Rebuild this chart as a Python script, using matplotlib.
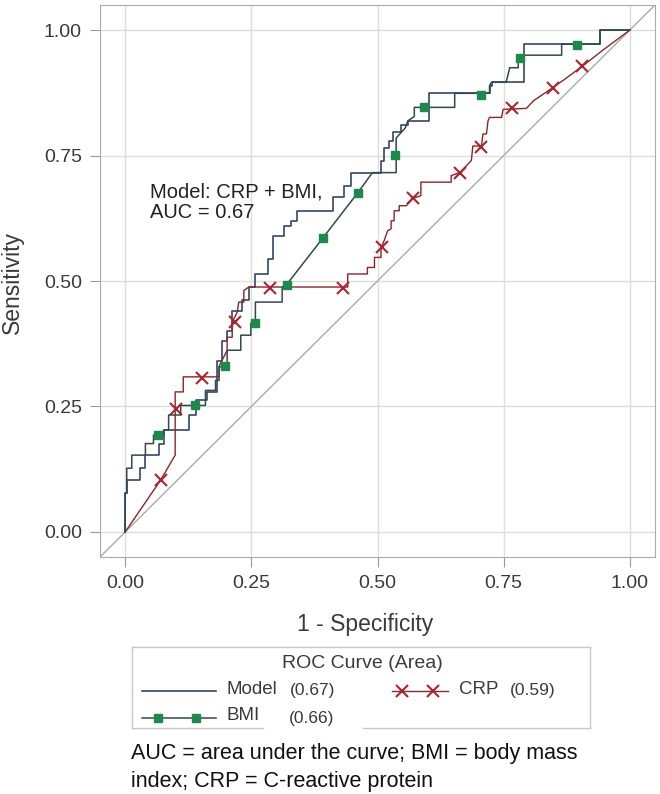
import matplotlib.pyplot as plt
import numpy as np

plt.rcParams['font.family'] = ['Liberation Sans', 'DejaVu Sans']

# ROC curve vertices (1 - specificity, sensitivity)
model_x = [0, 0, 0.003, 0.003, 0.030, 0.030, 0.040, 0.040, 0.066, 0.066, 0.076, 0.076,
           0.126, 0.126, 0.140, 0.140, 0.162, 0.162, 0.182, 0.182, 0.192, 0.192, 0.202,
           0.202, 0.212, 0.212, 0.232, 0.232, 0.245, 0.245, 0.258, 0.258, 0.282, 0.282,
           0.292, 0.292, 0.315, 0.315, 0.328, 0.328, 0.341, 0.341, 0.411, 0.411, 0.434,
           0.434, 0.447, 0.447, 0.507, 0.507, 0.513, 0.513, 0.523, 0.523, 0.530, 0.530,
           0.547, 0.547, 0.560, 0.560, 0.603, 0.603, 0.722, 0.722, 0.726, 0.726, 0.790,
           0.790, 0.941, 0.941, 1.0]
model_y = [0, 0.077, 0.077, 0.103, 0.103, 0.127, 0.127, 0.153, 0.153, 0.176, 0.176, 0.203,
           0.203, 0.233, 0.233, 0.262, 0.262, 0.279, 0.279, 0.340, 0.340, 0.380, 0.380,
           0.400, 0.400, 0.441, 0.441, 0.463, 0.463, 0.488, 0.488, 0.514, 0.514, 0.544,
           0.544, 0.590, 0.590, 0.610, 0.610, 0.620, 0.620, 0.640, 0.640, 0.667, 0.667,
           0.690, 0.690, 0.716, 0.716, 0.740, 0.740, 0.766, 0.766, 0.779, 0.779, 0.796,
           0.796, 0.810, 0.810, 0.819, 0.819, 0.874, 0.874, 0.889, 0.889, 0.896, 0.896,
           0.972, 0.972, 1.0, 1.0]

bmi_x = [0, 0, 0.003, 0.003, 0.013, 0.013, 0.040, 0.040, 0.056, 0.056, 0.076, 0.076,
         0.086, 0.086, 0.110, 0.110, 0.159, 0.159, 0.179, 0.179, 0.186, 0.186, 0.202,
         0.202, 0.229, 0.229, 0.249, 0.249, 0.258, 0.258, 0.311, 0.311, 0.320, 0.392,
         0.461, 0.490, 0.537, 0.537, 0.547, 0.555, 0.560, 0.573, 0.573, 0.653, 0.653,
         0.722, 0.722, 0.726, 0.755, 0.762, 0.779, 0.779, 0.865, 0.865, 0.941, 0.941, 1.0]
bmi_y = [0, 0.077, 0.077, 0.127, 0.127, 0.153, 0.153, 0.176, 0.176, 0.193, 0.193, 0.203,
         0.203, 0.233, 0.233, 0.252, 0.252, 0.282, 0.282, 0.302, 0.302, 0.329, 0.329,
         0.362, 0.362, 0.392, 0.392, 0.416, 0.416, 0.458, 0.458, 0.488, 0.493, 0.586,
         0.676, 0.716, 0.716, 0.785, 0.796, 0.805, 0.819, 0.828, 0.846, 0.846, 0.874,
         0.874, 0.889, 0.896, 0.896, 0.925, 0.925, 0.950, 0.950, 0.972, 0.972, 1.0, 1.0]

crp_x = [0, 0.070, 0.099, 0.099, 0.115, 0.115, 0.186, 0.186, 0.202, 0.202, 0.212, 0.212,
         0.222, 0.225, 0.235, 0.235, 0.245, 0.441, 0.441, 0.480, 0.480, 0.494, 0.494,
         0.507, 0.507, 0.513, 0.520, 0.527, 0.527, 0.533, 0.533, 0.543, 0.543, 0.557,
         0.571, 0.586, 0.586, 0.646, 0.646, 0.663, 0.686, 0.689, 0.706, 0.709, 0.716,
         0.719, 0.722, 0.746, 0.749, 0.795, 0.809, 0.847, 0.871, 0.906, 0.944, 1.0]
crp_y = [0, 0.103, 0.153, 0.279, 0.279, 0.309, 0.309, 0.330, 0.362, 0.388, 0.388, 0.418,
         0.438, 0.458, 0.458, 0.481, 0.488, 0.488, 0.514, 0.514, 0.527, 0.527, 0.547,
         0.547, 0.567, 0.580, 0.600, 0.604, 0.620, 0.620, 0.640, 0.640, 0.650, 0.650,
         0.665, 0.670, 0.697, 0.697, 0.710, 0.716, 0.740, 0.769, 0.769, 0.793, 0.793,
         0.819, 0.826, 0.826, 0.842, 0.844, 0.859, 0.885, 0.902, 0.928, 0.958, 1.0]

# marker positions along the curves
bmi_mx = [0.064, 0.139, 0.197, 0.258, 0.320, 0.392, 0.461, 0.535, 0.592, 0.706, 0.783, 0.895]
bmi_my = [0.193, 0.252, 0.330, 0.416, 0.493, 0.586, 0.676, 0.751, 0.847, 0.871, 0.944, 0.970]
crp_mx = [0.070, 0.101, 0.152, 0.217, 0.287, 0.431, 0.509, 0.571, 0.663, 0.706, 0.767, 0.847, 0.906]
crp_my = [0.103, 0.245, 0.307, 0.419, 0.486, 0.486, 0.567, 0.665, 0.716, 0.767, 0.845, 0.885, 0.928]

ticks = [0.0, 0.25, 0.5, 0.75, 1.0]
tick_labels = ['0.00', '0.25', '0.50', '0.75', '1.00']

model_col = '#34466B'
bmi_col = '#2F4A4C'
bmi_mark = '#1B8A4A'
crp_col = '#8E2424'
crp_mark = '#B0232E'
txt = '#3A3A3A'

fig = plt.figure(figsize=(6.6, 7.94), dpi=100)
ax = fig.add_axes([100 / 660, 1 - 557 / 794, 555 / 660, 552 / 794])

ax.set_xlim(-0.05, 1.05)
ax.set_ylim(-0.05, 1.05)
ax.set_xticks(ticks)
ax.set_yticks(ticks)
ax.set_xticklabels(tick_labels, fontsize=14, color=txt)
ax.set_yticklabels(tick_labels, fontsize=14, color=txt)
ax.tick_params(length=7, color='#999999', pad=6)
ax.grid(True, color='#DDDDDD', linewidth=1.0)
ax.set_axisbelow(True)
for s in ax.spines.values():
    s.set_color('#AAAAAA')

ax.axline((0, 0), (1, 1), color='#AAAAAA', linewidth=1.0, zorder=1)

ax.plot(model_x, model_y, color=model_col, linewidth=1.2, zorder=3)
ax.plot(crp_x, crp_y, color=crp_col, linewidth=1.0, zorder=3)
ax.plot(bmi_x, bmi_y, color=bmi_col, linewidth=1.1, zorder=3)
ax.plot(bmi_mx, bmi_my, linestyle='none', marker='s', markersize=6,
        color=bmi_mark, zorder=4)
ax.plot(crp_mx, crp_my, linestyle='none', marker='x', markersize=9,
        markeredgewidth=1.5, color=crp_mark, zorder=4)

ax.text(0.05, 0.657, 'Model: CRP + BMI,\nAUC = 0.67', fontsize=14.5, color='#222222',
        va='center', ha='left', linespacing=1.15)

fig.text(365 / 660, 1 - 625 / 794, '1 - Specificity', fontsize=16.5, color=txt,
         ha='center', va='center')
fig.text(12 / 660, 1 - 283 / 794, 'Sensitivity', fontsize=16.5, color=txt,
         ha='center', va='center', rotation=90)

# legend and caption, placed in pixel coordinates
lg = fig.add_axes([0, 0, 1, 1])
lg.set_xlim(0, 660)
lg.set_ylim(794, 0)
lg.axis('off')
box = '#C8C8C8'
lg.plot([132, 590], [647, 647], color=box, linewidth=1)
lg.plot([132, 132], [647, 728], color=box, linewidth=1)
lg.plot([590, 590], [647, 728], color=box, linewidth=1)
lg.plot([132, 263], [728, 728], color=box, linewidth=1)
lg.plot([363, 590], [728, 728], color=box, linewidth=1)

lg.text(362, 663, 'ROC Curve (Area)', fontsize=14, color=txt, ha='center', va='center')
lg.plot([142, 216], [691, 691], color=model_col, linewidth=1.2)
lg.text(226, 690, 'Model', fontsize=13.5, color=txt, va='center')
lg.text(290, 691, '(0.67)', fontsize=12.5, color=txt, va='center')
lg.plot([142, 216], [718, 718], color=bmi_col, linewidth=1.1)
lg.plot([158, 196], [718, 718], linestyle='none', marker='s', markersize=6, color=bmi_mark)
lg.text(226, 715, 'BMI', fontsize=13.5, color=txt, va='center')
lg.text(289, 718, '(0.66)', fontsize=12.5, color=txt, va='center')
lg.plot([392, 448], [691, 691], color=crp_col, linewidth=1.0)
lg.plot([402, 433], [691, 691], linestyle='none', marker='x', markersize=9,
        markeredgewidth=1.5, color=crp_mark)
lg.text(459, 689, 'CRP', fontsize=13.5, color=txt, va='center')
lg.text(510, 691, '(0.59)', fontsize=12.5, color=txt, va='center')

lg.text(131, 754, 'AUC = area under the curve; BMI = body mass', fontsize=15.5, color='#111111', va='center')
lg.text(131, 781, 'index; CRP = C-reactive protein', fontsize=15.5, color='#111111', va='center')

fig.savefig('out.png', dpi=100)
